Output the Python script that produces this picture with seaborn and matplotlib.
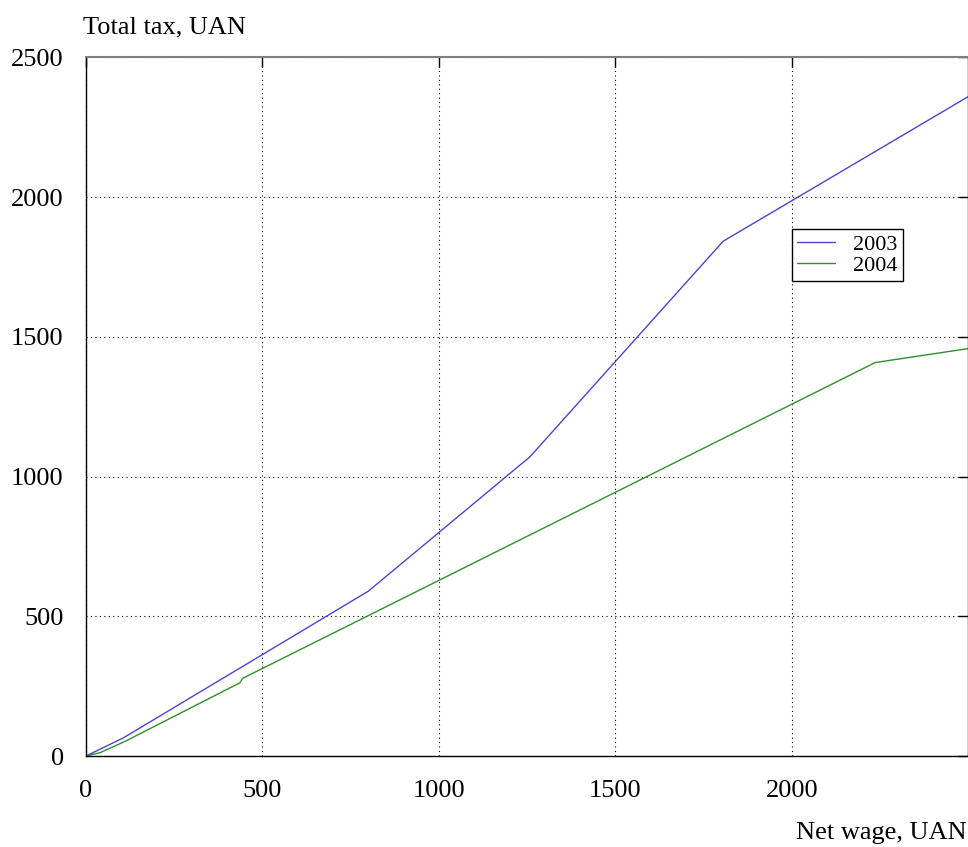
import pandas as pd
import seaborn as sns
import matplotlib.pyplot as plt

# tax curves (net wage -> total tax, UAN)
wage_2003 = [0, 106, 800, 1258, 1805, 2500]
tax_2003 = [0, 65, 590, 1071, 1842, 2360]
wage_2004 = [0, 40, 110, 436, 444, 2236, 2500]
tax_2004 = [0, 12, 52, 262, 278, 1408, 1458]

x_ticks = [0, 500, 1000, 1500, 2000]
y_ticks = [0, 500, 1000, 1500, 2000, 2500]

df = pd.concat([
    pd.DataFrame({'wage': wage_2003, 'tax': tax_2003, 'year': '2003'}),
    pd.DataFrame({'wage': wage_2004, 'tax': tax_2004, 'year': '2004'}),
])

sns.set_theme(style='white')
plt.rcParams['font.family'] = ['Liberation Serif', 'DejaVu Serif']
plt.rcParams['text.color'] = 'black'

fig = plt.figure(figsize=(9.68, 8.47), dpi=100)
ax = fig.add_axes([0.0888, 0.1074, 0.9117, 0.8249])

sns.lineplot(data=df, x='wage', y='tax', hue='year',
             palette={'2003': '#4a46c8', '2004': '#2f8f2f'},
             estimator=None, sort=False, linewidth=1.0, ax=ax)

ax.set_xlim(0, 2500)
ax.set_ylim(0, 2500)
ax.set_xticks(x_ticks)
ax.set_yticks(y_ticks)
ax.set_xlabel('')
ax.set_ylabel('')
ax.grid(True, color='black', linestyle=(0, (1, 3)), linewidth=0.8)
ax.tick_params(direction='in', length=7, width=1, colors='black',
               labelsize=19, top=True, right=True)
ax.tick_params(axis='x', pad=17)
ax.tick_params(axis='y', pad=16)
for s in ['left', 'bottom', 'right']:
    ax.spines[s].set_color('black')
    ax.spines[s].set_linewidth(1.0)
ax.spines['top'].set_color('#7f7f7f')
ax.spines['top'].set_linewidth(1.5)

h, l = ax.get_legend_handles_labels()
leg = ax.legend(h, l, loc='upper left', bbox_to_anchor=(0.787, 0.770),
                fontsize=16, frameon=True, fancybox=False, edgecolor='black',
                framealpha=1, handlelength=1.7, handletextpad=0.8,
                labelspacing=0.0, borderpad=0.25)
leg.get_frame().set_linewidth(1.0)

fig.text(0.0857, 0.968, 'Total tax, UAN', fontsize=19, ha='left', va='center')
fig.text(0.999, 0.0165, 'Net wage, UAN', fontsize=19, ha='right', va='center')

fig.savefig('out.png', dpi=100)
